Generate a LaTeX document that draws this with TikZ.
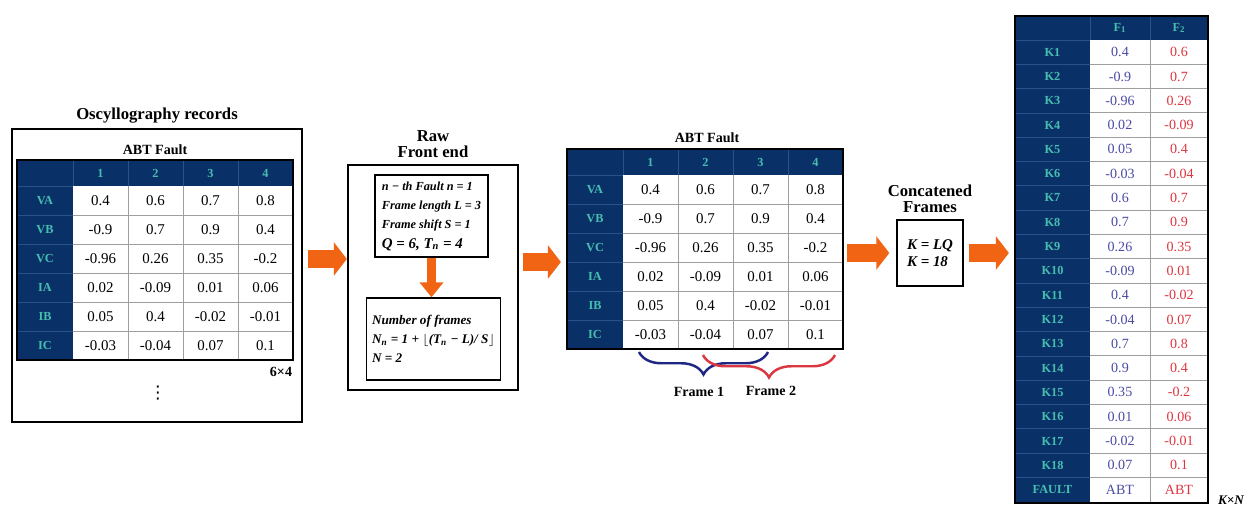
\documentclass[tikz,border=0pt]{standalone}
\usepackage{fontspec}
\setmainfont{Liberation Serif}
\newfontfamily\symfont{DejaVu Sans}
\usepackage{amsmath}
\usetikzlibrary{arrows.meta,decorations.pathreplacing,positioning}

\definecolor{navy}{RGB}{10,48,104}
\definecolor{navyline}{RGB}{40,82,140}
\definecolor{tealtxt}{RGB}{70,190,175}
\definecolor{arroworange}{RGB}{240,100,20}
\definecolor{fblue}{RGB}{75,75,165}
\definecolor{fred}{RGB}{220,55,65}
\definecolor{braceblue}{RGB}{30,40,130}

\tikzset{
  box/.style={draw, line width=0.8pt, inner sep=0pt},
  tabframe/.style={draw, line width=1.3pt, inner sep=0pt},
  gridline/.style={gray!75, line width=0.5pt},
  darkline/.style={navyline, line width=0.4pt},
  cell/.style={anchor=center, inner sep=0pt, font=\fontsize{8.5}{9}\selectfont},
  lab/.style={anchor=center, inner sep=0pt, text=tealtxt, font=\fontsize{7}{8}\selectfont\bfseries},
  title/.style={inner sep=0pt, align=center, font=\fontsize{9.5}{9.5}\selectfont\bfseries},
  subtitle/.style={inner sep=0pt, font=\fontsize{8}{9}\selectfont\bfseries},
  bigarrow/.style={arroworange, line width=0.36cm, -{Triangle[length=0.26cm,width=0.66cm]}},
  downarrow/.style={arroworange, line width=0.17cm, -{Triangle[length=0.3cm,width=0.46cm]}},
  framebrace/.style={decorate, decoration={brace, mirror, amplitude=0.45cm}, line width=1.4pt},
  % the 6x4 table of one fault record
  pics/abttable/.style={code={
    \fill[navy] (0,0) rectangle (276,200);
    \fill[white] (56,26) rectangle (276,200);
    \foreach \i in {1,2,3} \draw[gridline] (56+55*\i,26) -- (56+55*\i,200);
    \foreach \i in {1,...,5} \draw[gridline] (56,26+29*\i) -- (276,26+29*\i);
    \foreach \i in {0,...,3} \draw[darkline] (56+55*\i,0) -- (56+55*\i,26);
    \foreach \i in {0,...,5} \draw[darkline] (0,26+29*\i) -- (56,26+29*\i);
    \node[tabframe, minimum width=5.52cm, minimum height=4cm] (-frame) at (138,100) {};
    \foreach \n in {1,...,4} \node[lab] (-h\n) at (28.5+55*\n,13) {\n};
    \foreach \rl/\va/\vb/\vc/\vd [count=\rw] in {VA/0.4/0.6/0.7/0.8, VB/-0.9/0.7/0.9/0.4,
        VC/-0.96/0.26/0.35/-0.2, IA/0.02/-0.09/0.01/0.06, IB/0.05/0.4/-0.02/-0.01,
        IC/-0.03/-0.04/0.07/0.1} {
      \node[lab] (-\rl) at (28,11.5+29*\rw) {\rl};
      \node[cell] (-\rl1) at (83.5,11.5+29*\rw) {\va};
      \node[cell] (-\rl2) at (138.5,11.5+29*\rw) {\vb};
      \node[cell] (-\rl3) at (193.5,11.5+29*\rw) {\vc};
      \node[cell] (-\rl4) at (248.5,11.5+29*\rw) {\vd};
    }
  }}
}

\begin{document}
\begin{tikzpicture}[x=0.02cm, y=-0.02cm]
  \useasboundingbox (0,0) rectangle (1249,508);

  % oscillography records
  \node[box, line width=1pt, minimum width=5.8cm, minimum height=5.86cm] (records) at (157,275.5) {};
  \node[title, above=0.1cm of records] (recordstitle) {Oscyllography records};
  \node[subtitle] (abt1) at (155,150) {ABT Fault};
  \pic (lt) at (17,160) {abttable};
  \node[inner sep=0pt, font=\fontsize{8}{9}\selectfont\bfseries] (dim1) at (281,372) {6×4};
  \node[inner sep=0pt, font=\fontsize{10}{10}\selectfont\symfont] (dots) at (158,393) {⋮};

  % raw front end
  \node[box, minimum width=3.4cm, minimum height=4.5cm] (frontend) at (433,277.5) {};
  \node[title, above=0.12cm of frontend] (fetitle) {Raw\\Front end};
  \node[box, minimum width=2.26cm, minimum height=1.64cm, align=left, inner xsep=2pt,
        font=\fontsize{7}{11}\selectfont\bfseries\itshape] (params) at (431.5,216)
        {n − th Fault n = 1\\Frame length L = 3\\Frame shift S = 1\\
         {\fontsize{8.5}{9}\selectfont Q = 6, T\textsubscript{n} = 4}};
  \node[box, minimum width=2.66cm, minimum height=1.64cm, align=left, inner xsep=3pt,
        font=\fontsize{7.5}{11}\selectfont\bfseries\itshape] (nframes) at (433.5,339)
        {Number of frames\\N\textsubscript{n} = 1 + $\lfloor$(T\textsubscript{n} − L)/ S$\rfloor$\\N = 2};
  \draw[downarrow] (params.south) -- (params.south |- nframes.north);

  % fault record split in frames
  \node[subtitle] (abt2) at (707,138) {ABT Fault};
  \pic (mt) at (567,149) {abttable};
  \draw[framebrace, braceblue] (639,352) -- (768,352);
  \draw[framebrace, fred] (703,355) -- (835,355);
  \node[subtitle] (frame1) at (699,392) {Frame 1};
  \node[subtitle] (frame2) at (771,391) {Frame 2};

  % concatenated frames
  \node[box, minimum width=1.32cm, minimum height=1.32cm, align=left,
        font=\fontsize{8.5}{10}\selectfont\bfseries\itshape] (concat) at (930,253)
        {K = LQ\\K = 18};
  \node[title, above=0.12cm of concat] (cftitle) {Concatened\\Frames};

  % feature matrix K x N
  \fill[navy] (1015,16) rectangle (1208,503);
  \fill[white] (1090,40) rectangle (1208,503);
  \draw[gridline] (1150,40) -- (1150,503);
  \foreach \i in {1,...,18} \draw[gridline] (1090,40+24.3*\i) -- (1208,40+24.3*\i);
  \foreach \i in {0,...,18} \draw[darkline] (1015,40+24.3*\i) -- (1090,40+24.3*\i);
  \draw[darkline] (1090,16) -- (1090,40) (1150,16) -- (1150,40);
  \node[tabframe, minimum width=3.86cm, minimum height=9.74cm] (features) at (1111.5,259.5) {};
  \node[lab] (fh1) at (1120,28) {F\textsubscript{1}};
  \node[lab] (fh2) at (1179,28) {F\textsubscript{2}};
  \foreach \rl/\fa/\fb [count=\rw] in {K1/0.4/0.6, K2/-0.9/0.7, K3/-0.96/0.26, K4/0.02/-0.09,
      K5/0.05/0.4, K6/-0.03/-0.04, K7/0.6/0.7, K8/0.7/0.9, K9/0.26/0.35, K10/-0.09/0.01,
      K11/0.4/-0.02, K12/-0.04/0.07, K13/0.7/0.8, K14/0.9/0.4, K15/0.35/-0.2,
      K16/0.01/0.06, K17/-0.02/-0.01, K18/0.07/0.1, FAULT/ABT/ABT} {
    \node[lab] (\rl) at (1052.5,27.85+24.3*\rw) {\rl};
    \node[cell, text=fblue, font=\fontsize{8}{9}\selectfont] (\rl-f1) at (1120,27.85+24.3*\rw) {\fa};
    \node[cell, text=fred, font=\fontsize{8}{9}\selectfont] (\rl-f2) at (1179,27.85+24.3*\rw) {\fb};
  }
  \node[inner sep=0pt, font=\fontsize{7.5}{8}\selectfont\bfseries\itshape] (kn) at (1231,500) {K×N};

  % flow arrows
  \draw[bigarrow, shorten <=0.1cm, shorten >=0.01cm] (records.east |- 0,259) -- (frontend.west |- 0,259);
  \draw[bigarrow, shorten <=0.08cm, shorten >=0.1cm] (frontend.east |- 0,262) -- (mt-frame.west |- 0,262);
  \draw[bigarrow, shorten <=0.06cm, shorten >=0.14cm] (mt-frame.east |- 0,253) -- (concat.west |- 0,253);
  \draw[bigarrow, shorten <=0.1cm, shorten >=0.1cm] (concat.east |- 0,253) -- (features.west |- 0,253);
\end{tikzpicture}
\end{document}
